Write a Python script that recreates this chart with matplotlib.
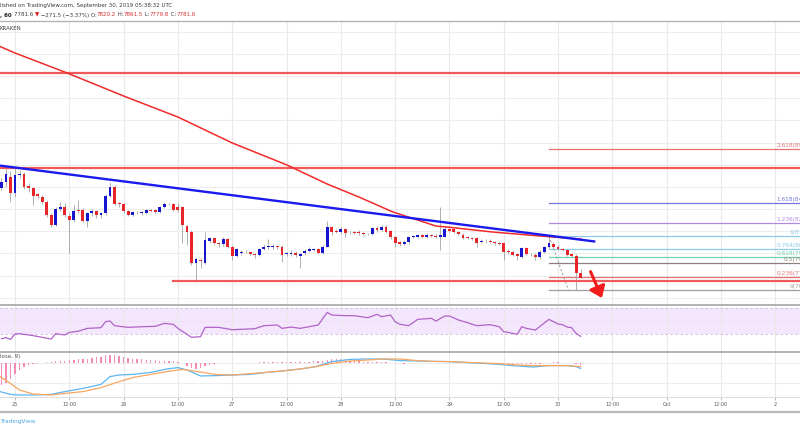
import numpy as np
import matplotlib
matplotlib.use("Agg")
import matplotlib.pyplot as plt
from matplotlib.lines import Line2D
from matplotlib.patches import FancyArrowPatch

# hourly BTCUSD bars, x = hours since 25 Sep 2019 00:00 UTC
hours = np.arange(-3, 126)

opens = [8593, 8647, 8692, 8542, 8707, 8716, 8611, 8587, 8533, 8512,
         8466, 8343, 8259, 8403, 8418, 8337, 8301, 8391, 8391, 8295,
         8361, 8382, 8346, 8361, 8521, 8602, 8451, 8442, 8379, 8346,
         8370, 8367, 8367, 8391, 8391, 8370, 8415, 8445, 8442, 8421,
         8415, 8247, 8196, 7916, 7940, 7916, 8114, 8135, 8090, 8081,
         8126, 8060, 7976, 8000, 8012, 8015, 7994, 7988, 8036, 8054,
         8054, 8066, 8060, 7994, 7994, 8006, 7976, 8000, 8024, 8030,
         8036, 8006, 8060, 8235, 8202, 8196, 8220, 8193, 8193, 8196,
         8180, 8174, 8174, 8229, 8211, 8238, 8202, 8147, 8102, 8084,
         8102, 8147, 8150, 8162, 8147, 8165, 8159, 8147, 8150, 8220,
         8217, 8196, 8165, 8147, 8135, 8135, 8105, 8108, 8114, 8105,
         8096, 8096, 8021, 8012, 7994, 7970, 8045, 7994, 7985, 7964,
         8015, 8054, 8084, 8060, 8036, 8030, 7994, 7976, 7820.2]
highs = [8677, 8767, 8746, 8782, 8752, 8737, 8632, 8602, 8548, 8527,
         8481, 8361, 8415, 8466, 8451, 8361, 8436, 8481, 8406, 8376,
         8397, 8391, 8376, 8536, 8647, 8617, 8466, 8457, 8391, 8382,
         8385, 8382, 8403, 8400, 8403, 8427, 8466, 8457, 8451, 8451,
         8427, 8256, 8211, 7964, 7955, 8196, 8150, 8150, 8105, 8144,
         8135, 8075, 8045, 8030, 8030, 8024, 8006, 8048, 8084, 8126,
         8084, 8078, 8072, 8015, 8030, 8018, 8006, 8036, 8054, 8051,
         8048, 8075, 8292, 8247, 8217, 8235, 8229, 8205, 8205, 8211,
         8193, 8184, 8241, 8247, 8256, 8253, 8211, 8156, 8114, 8120,
         8156, 8168, 8174, 8174, 8180, 8174, 8171, 8421, 8235, 8235,
         8226, 8205, 8180, 8156, 8144, 8144, 8126, 8126, 8126, 8114,
         8105, 8105, 8036, 8030, 8006, 8060, 8054, 8006, 8000, 8030,
         8066, 8157, 8102, 8072, 8048, 8042, 8006, 7994, 7861.5]
lows = [8572, 8602, 8466, 8512, 8677, 8578, 8557, 8436, 8497, 8445,
        8331, 8241, 8247, 8385, 8331, 8006, 8286, 8361, 8286, 8235,
        8337, 8316, 8316, 8346, 8512, 8436, 8421, 8361, 8337, 8337,
        8355, 8346, 8355, 8373, 8361, 8361, 8406, 8433, 8379, 8376,
        8090, 8075, 7895, 7744, 7864, 7904, 8096, 8075, 8060, 8066,
        8045, 7940, 7964, 7985, 8000, 7982, 7955, 7976, 8030, 8042,
        8042, 8042, 7925, 7976, 7976, 7970, 7864, 7988, 8012, 8018,
        7994, 7994, 8054, 8165, 8180, 8174, 8147, 8174, 8174, 8162,
        8162, 8162, 8162, 8193, 8199, 8180, 8129, 8060, 8066, 8072,
        8084, 8135, 8138, 8135, 8135, 8150, 8135, 8030, 8147, 8193,
        8180, 8162, 8126, 8126, 8120, 8054, 8096, 8096, 8090, 8078,
        8072, 7940, 7994, 7976, 7940, 7958, 7982, 7976, 7940, 7946,
        8006, 8045, 8048, 8030, 8018, 7976, 7964, 7669, 7779.8]
closes = [8647, 8716, 8542, 8707, 8716, 8596, 8587, 8521, 8518, 8466,
          8343, 8259, 8403, 8418, 8343, 8301, 8385, 8382, 8295, 8361,
          8379, 8346, 8361, 8521, 8602, 8445, 8442, 8379, 8346, 8373,
          8373, 8370, 8391, 8382, 8373, 8415, 8442, 8443, 8391, 8391,
          8256, 8196, 7916, 7946, 7931, 8120, 8135, 8090, 8081, 8126,
          8060, 7976, 8036, 8015, 8015, 7994, 7982, 8036, 8054, 8066,
          8066, 8054, 7982, 8000, 8006, 7985, 7994, 8024, 8039, 8039,
          8006, 8060, 8235, 8196, 8196, 8220, 8187, 8190, 8187, 8180,
          8174, 8172, 8229, 8211, 8238, 8196, 8147, 8096, 8084, 8102,
          8147, 8156, 8162, 8147, 8165, 8159, 8147, 8165, 8220, 8205,
          8196, 8174, 8135, 8135, 8133, 8096, 8114, 8114, 8105, 8090,
          8084, 8015, 8012, 7985, 7976, 8045, 7994, 7991, 7964, 8015,
          8054, 8090, 8060, 8042, 8030, 7985, 7976, 7820, 7781.6]

# 100 MA (red), read at a few points
ma_hours = [-4, 0, 11.5, 24, 36, 48, 60, 69, 76, 83.5, 89, 93, 95.5, 105.5, 116, 125]
ma_values = [9880, 9809, 9629, 9421, 9231, 8997, 8800, 8626, 8509, 8374,
             8301, 8247, 8238, 8193, 8157, 8130]

# drawings
trend_hours = [-4, 128]
trend_prices = [8796, 8108]
resist_levels = [9630, 8775]
support_level = 7752
support_start = 35
fib_low, fib_high = 7669, 8157
fib_start, fib_low_hour = 118, 122.3
fib_ratios = [0, 0.236, 0.5, 0.618, 0.764, 1, 1.236, 1.618, 2.618]
fib_colors = ["#9e9e9e", "#e57373", "#8d7f7f", "#6fd3a8", "#8cc9ea",
              "#8cc9ea", "#b48ae0", "#7676dc", "#e57373"]

# RSI(14)
rsi_hours = [-3, -2, -1, 0, 1, 4, 8, 9, 11, 12, 14, 16, 19, 20, 21, 22, 25, 28,
             31, 33, 35, 36, 39, 41, 42, 45, 48, 53, 55, 58, 59, 61, 63, 67, 69,
             70, 73, 75, 76, 78, 80, 81, 83, 84, 85, 87, 89, 92, 93, 95, 96, 98,
             100, 102, 105, 107, 108, 109, 111, 112, 113, 115, 118, 120, 121,
             122, 123, 124, 125]
rsi_values = [22, 24, 21, 29.5, 30, 27, 21.6, 30, 28, 32, 34, 38.4, 39.5, 49,
              50, 42.6, 40, 41, 41.6, 46.3, 44.7, 38.4, 24.3, 25.3, 40, 40,
              36.3, 37.9, 42.6, 43.7, 38.4, 40.5, 38.4, 43.7, 63.6, 59.4, 58.4,
              58.4, 57.3, 55.2, 60.5, 56.8, 59.4, 48.9, 45, 42.6, 52.6, 54.2,
              50, 57.9, 57.9, 51.6, 47.4, 42.6, 44.2, 41.1, 33.2, 32.1, 29,
              41.1, 38.4, 35.8, 52.6, 45.3, 44.2, 40.5, 39.5, 30.6, 25.8]

# MACD(12, 26, close, 9)
macd_hours = [-3.3, -1, 1, 4, 8, 11, 15, 19, 21, 23, 26, 30, 33.5, 36, 38, 41,
              44.5, 48, 52, 55.5, 59, 63, 66.5, 70, 74, 78, 81.5, 85, 89, 92.5,
              96, 100, 103.5, 107, 111, 114.5, 118, 122, 124, 125]
macd_values = [-143, -157, -160, -160, -157, -143, -127, -107, -68, -60, -57,
               -47, -30, -23, -35, -65, -63, -60, -57, -47, -40, -30, -18, 7,
               18, 20, 20, 12, 10, 8, 7, 2, -2, -7, -15, -20, -13, -13, -18, -27]
signal_hours = [-3.3, -1, 1, 4, 8, 11, 15, 19, 22.5, 26, 30, 33.5, 37, 41, 44.5,
                48, 52, 55.5, 59, 63, 66.5, 70, 74, 78, 81.5, 85, 89, 92.5, 96,
                100, 103.5, 107, 111, 114.5, 118, 122, 125]
signal_values = [-68, -102, -135, -155, -160, -152, -143, -123, -97, -73, -57,
                 -43, -32, -45, -58, -60, -53, -47, -40, -30, -18, -2, 10, 15,
                 20, 20, 12, 8, 7, 3, 0, -3, -10, -13, -13, -13, -18]
hist_values = [-110, -100, -80,
               -55, -35, -20, -10, -5, -3, -2,
               3, 5, 8, 10, 12, 14, 16, 18, 20, 22, 25, 28, 32, 38,
               40, 38, 35, 30, 26, 22, 20, 18, 16, 14, 13, 12, 12, 10, 8, 5,
               -2, -15, -25, -30, -25, -15, -8, -4, -2, -2, -2, -2,
               0, 1, 2, 2, 2, 3, 3, 3, 3, 3, 3, 3, 4, 4, 5, 5, 6, 8, 8, 10,
               15, 20, 22, 20, 17, 12, 10, 8, 6, 5, 6, 5, 4, 3, 2,
               -1, -2, -3, -2, -1, 0, 1, 1, 1, 1, 2, 2, 2, 1, 0,
               -1, -2, -2, -3, -3, -3, -3, -3, -4, -5, -6, -7, -7, -6, -5, -6, -6, -4,
               0, 2, 3, 3, 2, 2, 0, -4, -8]

tick_hours = list(range(0, 169, 12))
tick_labels = ["25", "12:00", "26", "12:00", "27", "12:00", "28", "12:00",
               "29", "12:00", "30", "12:00", "Oct", "12:00", "2"]

RED = "#e8252a"
BLUE = "#1616d0"
W, H = 800, 430
XLIM = (-3.315, 173.48)


def ypx(y):
    return 1 - y / H


def pane(top, bottom):
    a = fig.add_axes([0, ypx(bottom), 1, (bottom - top) / H])
    a.set_xlim(*XLIM)
    for s in a.spines.values():
        s.set_visible(False)
    a.set_xticks(tick_hours)
    a.tick_params(length=0, labelleft=False, labelbottom=False)
    a.grid(True, axis="x", color="#e9e9e9", lw=0.8)
    a.set_axisbelow(True)
    return a


fig = plt.figure(figsize=(W / 100, H / 100), dpi=100)
fig.patch.set_facecolor("white")

# ---- price pane
ax = pane(21, 305)
ax.set_ylim(7534, 10098)
ax.set_yticks(np.arange(7600, 10200, 200))
ax.grid(True, axis="y", color="#ededed", lw=0.8)

o = np.array(opens)
c = np.array(closes)
up = c >= o
ax.vlines(hours, lows, highs, color="#a3a3a3", lw=0.6, zorder=2)
body_h = np.maximum(np.abs(c - o), 3)
ax.bar(hours, body_h, bottom=np.minimum(o, c), width=0.64,
       color=np.where(up, BLUE, RED), lw=0, zorder=3)

ax.plot(ma_hours, ma_values, color="#f22a2a", lw=1.1, zorder=4)
ax.plot(trend_hours, trend_prices, color="#1a1aee", lw=1.7, zorder=5)
for lvl in resist_levels:
    ax.axhline(lvl, color="#f05a5a", lw=1.6, zorder=2.5)
ax.plot([support_start, XLIM[1]], [support_level] * 2, color="#f05a5a", lw=1.6, zorder=2.5)

fib_span = fib_high - fib_low
for r, col in zip(fib_ratios, fib_colors):
    p = fib_low + r * fib_span
    ax.plot([fib_start, XLIM[1]], [p, p], color=col, lw=0.9, zorder=1.5)
    # labels run past the right edge, as in the cropped screenshot
    ax.text(177.5, p + 8, f"{r:g}({p:.1f})", color=col, fontsize=4.2,
            ha="right", va="bottom", clip_on=False)
ax.plot([fib_start, fib_low_hour], [fib_high, fib_low], color="#a0a0a0",
        lw=0.7, ls=(0, (2.5, 2)), zorder=1.6)

ax.add_patch(FancyArrowPatch((127.2, 7835), (129.7, 7597),
                             arrowstyle="-|>,head_length=0.6,head_width=0.45",
                             mutation_scale=11, color="#f21c1c", lw=2.2,
                             shrinkA=0, shrinkB=0, zorder=6))

# ---- RSI pane
ax_rsi = pane(305, 352)
ax_rsi.set_ylim(1.2, 75.2)
ax_rsi.axhspan(30, 70, color="#f4e6fc", lw=0, zorder=0)
for lvl in (30, 70):
    ax_rsi.axhline(lvl, color="#cdb6da", lw=0.6, ls=(0, (3, 3)), zorder=1)
ax_rsi.axhline(50, color="#ebe0f1", lw=0.6, zorder=0.5)
ax_rsi.plot(rsi_hours, rsi_values, color="#b063c8", lw=0.9, zorder=3)

# ---- MACD pane
ax_m = pane(352, 397)
ax_m.set_ylim(-170, 55)
ax_m.set_yticks([-100, 0])
ax_m.grid(True, axis="y", color="#ededed", lw=0.8)
ax_m.bar(hours, hist_values, width=0.3, color="#f48ab5", lw=0, zorder=2)
ax_m.plot(macd_hours, macd_values, color="#5cb6f2", lw=0.9, zorder=3)
ax_m.plot(signal_hours, signal_values, color="#f9a661", lw=0.9, zorder=3)
ax_m.text(0.0, 0.9, "lose, 9)", transform=ax_m.transAxes, fontsize=4.0,
          color="#555555", ha="left", va="center")
ax_m.set_xticks(tick_hours)
ax_m.set_xticklabels(tick_labels)
ax_m.tick_params(axis="x", length=2, width=0.5, color="#9a9a9a", pad=1.5,
                 labelsize=3.5, labelcolor="#555555", labelbottom=True)

# ---- frame lines
for y, col, lw in [(21, "#b4b4b4", 1.0), (305, "#a6a6a6", 1.2), (352, "#a6a6a6", 1.2),
                   (397, "#dddddd", 0.8), (411.5, "#b8b8b8", 1.6)]:
    fig.add_artist(Line2D([0, 1], [ypx(y)] * 2, color=col, lw=lw))

# ---- header
renderer = fig.canvas.get_renderer()


def text_row(x0, y, parts, size):
    x = x0
    for s, col, weight in parts:
        t = fig.text(x, ypx(y), s, fontsize=size, color=col, fontweight=weight,
                     ha="left", va="center")
        x += t.get_window_extent(renderer).width / fig.bbox.width


text_row(0, 6, [("lished on TradingView.com, September 30, 2019 05:38:32 UTC", "#3a3a3a", "normal")], 4.0)
text_row(0, 15, [(", 60 ", "#222222", "bold"), ("7781.6 ", "#3a3a3a", "normal"),
                 ("\u25bc", "#d82020", "normal"), (" \u2212271.5 (\u22123.37%) O:", "#3a3a3a", "normal"),
                 ("7820.2", "#d83030", "normal"), (" H:", "#3a3a3a", "normal"),
                 ("7861.5", "#d83030", "normal"), (" L:", "#3a3a3a", "normal"),
                 ("7779.8", "#d83030", "normal"), (" C:", "#3a3a3a", "normal"),
                 ("7781.6", "#d83030", "normal")], 4.0)
fig.text(0, ypx(29), "KRAKEN", fontsize=4.0, color="#444444", ha="left", va="center")
fig.text(0, ypx(421), "TradingView", fontsize=4.2, color="#4ea6e0", ha="left", va="center")

fig.savefig("out.png", dpi=100)
